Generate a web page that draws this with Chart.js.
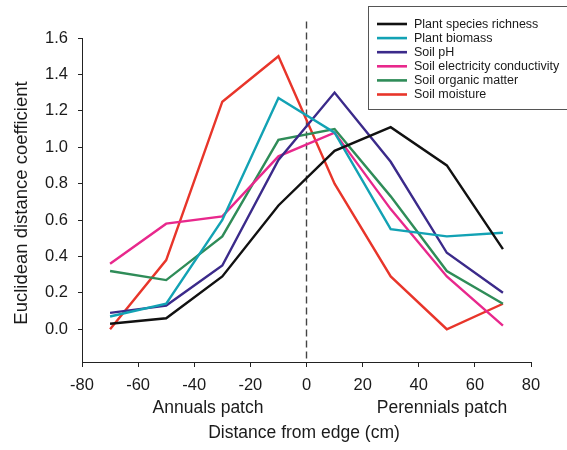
<!DOCTYPE html>
<html>
<head>
<meta charset="utf-8">
<script src="https://cdn.jsdelivr.net/npm/chart.js@4/dist/chart.umd.min.js"></script>
<style>
  html, body { margin: 0; padding: 0; background: #fff; }
  #wrap { width: 567px; height: 450px; }
</style>
</head>
<body>
<div id="wrap"><canvas id="chart" width="567" height="450"></canvas></div>
<script>
'use strict';

// ── Data ───────────────────────────────────────────────────
const distances = [-70, -50, -30, -10, 10, 30, 50, 70];
const richness     = [0.03, 0.06, 0.29, 0.68, 0.98, 1.11, 0.90, 0.44];
const biomass      = [0.07, 0.14, 0.60, 1.27, 1.08, 0.55, 0.51, 0.53];
const soilPH       = [0.09, 0.13, 0.35, 0.93, 1.30, 0.92, 0.42, 0.20];
const conductivity = [0.36, 0.58, 0.62, 0.95, 1.08, 0.66, 0.29, 0.02];
const organic      = [0.32, 0.27, 0.51, 1.04, 1.10, 0.73, 0.32, 0.14];
const moisture     = [0.00, 0.38, 1.25, 1.50, 0.80, 0.29, 0.00, 0.14];

const seriesNames = ['Plant species richness', 'Plant biomass', 'Soil pH',
  'Soil electricity conductivity', 'Soil organic matter', 'Soil moisture'];
const seriesColors = ['#111111', '#12a2b4', '#3b2a8a', '#e8288c', '#2f8c58', '#e8352a'];
const yTickValues = [0, 0.2, 0.4, 0.6, 0.8, 1.0, 1.2, 1.4, 1.6];

const FONT = 'Liberation Sans, Arial, sans-serif';

const seriesData = [richness, biomass, soilPH, conductivity, organic, moisture];
const datasets = seriesData.map((vals, i) => ({
  label: seriesNames[i],
  data: vals.map((v, j) => ({ x: distances[j], y: v })),
  borderColor: seriesColors[i],
  backgroundColor: seriesColors[i],
  borderWidth: 2.4,
  pointRadius: 0,
  tension: 0,
  fill: false
}));

// ── Extras: edge line, legend box, axis texts ──────────────
const extras = {
  id: 'extras',
  beforeDatasetsDraw(chart) {
    const { ctx, scales: { x, y } } = chart;
    const px = x.getPixelForValue(0);
    ctx.save();
    ctx.strokeStyle = '#444';
    ctx.lineWidth = 1.4;
    ctx.setLineDash([7, 4]);
    ctx.beginPath();
    ctx.moveTo(px, y.getPixelForValue(1.69));
    ctx.lineTo(px, y.bottom);
    ctx.stroke();
    ctx.restore();
  },
  afterDraw(chart) {
    const { ctx } = chart;
    ctx.save();
    // legend
    ctx.strokeStyle = '#555';
    ctx.lineWidth = 1;
    ctx.strokeRect(368.5, 6.5, 204, 103);
    ctx.font = '12.5px ' + FONT;
    ctx.textBaseline = 'middle';
    ctx.textAlign = 'left';
    seriesNames.forEach((name, i) => {
      const ly = 24 + i * 14.1;
      ctx.strokeStyle = seriesColors[i];
      ctx.lineWidth = 2.6;
      ctx.beginPath();
      ctx.moveTo(377, ly);
      ctx.lineTo(407, ly);
      ctx.stroke();
      ctx.fillStyle = '#1a1a1a';
      ctx.fillText(name, 414, ly + 0.5);
    });
    // axis texts
    ctx.fillStyle = '#1a1a1a';
    ctx.textBaseline = 'alphabetic';
    ctx.font = '17.5px ' + FONT;
    ctx.textAlign = 'center';
    ctx.fillText('Annuals patch', 208, 413);
    ctx.fillText('Perennials patch', 442, 413);
    ctx.fillText('Distance from edge (cm)', 304, 438);
    ctx.font = '18.5px ' + FONT;
    ctx.translate(27, 203);
    ctx.rotate(-Math.PI / 2);
    ctx.fillText('Euclidean distance coefficient', 0, 0);
    ctx.restore();
  }
};

new Chart(document.getElementById('chart').getContext('2d'), {
  type: 'line',
  data: { datasets },
  plugins: [extras],
  options: {
    responsive: false,
    animation: false,
    layout: { padding: { top: 38, right: 36, left: 0, bottom: 0 } },
    plugins: { legend: { display: false }, tooltip: { enabled: false } },
    scales: {
      x: {
        type: 'linear',
        min: -80, max: 80,
        afterFit(s) { s.height = 88; },
        ticks: { stepSize: 20, color: '#1a1a1a', font: { family: FONT, size: 16.5 }, padding: 9, maxRotation: 0 },
        grid: { drawOnChartArea: false, drawTicks: true, tickLength: 5, color: '#222' },
        border: { display: true, color: '#222', width: 1 }
      },
      y: {
        type: 'linear',
        min: -0.18, max: 1.6,
        afterFit(s) { s.width = 82; },
        afterBuildTicks(s) { s.ticks = yTickValues.map(v => ({ value: v })); },
        ticks: {
          color: '#1a1a1a', font: { family: FONT, size: 16.5 }, padding: 10,
          callback: v => Number(v).toFixed(1)
        },
        grid: { drawOnChartArea: false, drawTicks: true, tickLength: 4, color: '#222' },
        border: { display: true, color: '#222', width: 1 }
      }
    }
  }
});
</script>
</body>
</html>
